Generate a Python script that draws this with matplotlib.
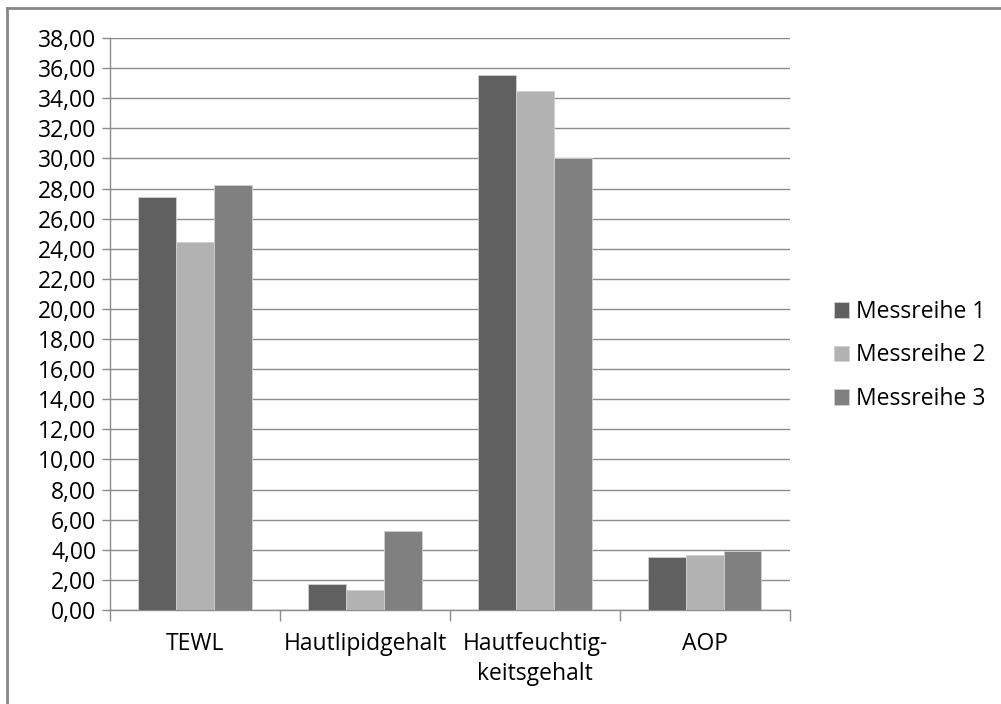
import numpy as np
import matplotlib
matplotlib.use('Agg')
import matplotlib.pyplot as plt
from matplotlib.lines import Line2D

categories = ["TEWL", "Hautlipidgehalt", "Hautfeuchtig-\nkeitsgehalt", "AOP"]
series_names = ["Messreihe 1", "Messreihe 2", "Messreihe 3"]
messreihe_1 = [27.45, 1.70, 35.55, 3.50]
messreihe_2 = [24.45, 1.30, 34.45, 3.65]
messreihe_3 = [28.25, 5.25, 30.05, 3.95]
colors = ["#606060", "#b2b2b2", "#808080"]

plt.rcParams['font.family'] = ['Open Sans', 'DejaVu Sans']
plt.rcParams['font.size'] = 16.5

fig = plt.figure(figsize=(10.01, 7.04), dpi=100)
ax = fig.add_axes([0.110, 0.1335, 0.679, 0.8125])

x = np.arange(len(categories))
width = 1 / 4.5
for i, (vals, name) in enumerate(zip([messreihe_1, messreihe_2, messreihe_3], series_names)):
    ax.bar(x + (i - 1) * width, vals, width, color=colors[i], label=name,
           edgecolor="#d0d0d0", linewidth=0.6, zorder=3)

ax.set_xlim(-0.5, len(categories) - 0.5)
ax.set_ylim(0, 38)
ax.set_yticks(np.arange(0, 39, 2))
ax.set_yticklabels([f"{v:.2f}".replace(".", ",") for v in np.arange(0, 39, 2)])
ax.grid(axis='y', color="#8c8c8c", linewidth=1, zorder=0)

# category labels in the middle, tick marks at the boundaries
ax.set_xticks(x)
ax.set_xticklabels(categories, linespacing=1.3)
ax.tick_params(axis='x', length=0, pad=16)
ax.set_xticks(np.arange(-0.5, len(categories), 1), minor=True)
ax.tick_params(axis='x', which='minor', length=8, color="#8c8c8c", width=1)
ax.tick_params(axis='y', length=6, color="#8c8c8c", width=1, pad=4)

for s in ['top', 'right']:
    ax.spines[s].set_visible(False)
for s in ['left', 'bottom']:
    ax.spines[s].set_color("#8c8c8c")
    ax.spines[s].set_linewidth(1)

ax.legend(loc='center left', bbox_to_anchor=(1.035, 0.445), frameon=False,
          handlelength=0.65, handleheight=0.65, handletextpad=0.3,
          labelspacing=0.85, fontsize=16.5)

# outer chart frame (top and left edge visible)
fig.add_artist(Line2D([0.007, 1.0], [0.989, 0.989], transform=fig.transFigure,
                      color="#888888", linewidth=2))
fig.add_artist(Line2D([0.007, 0.007], [0.0, 0.989], transform=fig.transFigure,
                      color="#888888", linewidth=2))

fig.savefig("out.png", dpi=100, facecolor="white")
